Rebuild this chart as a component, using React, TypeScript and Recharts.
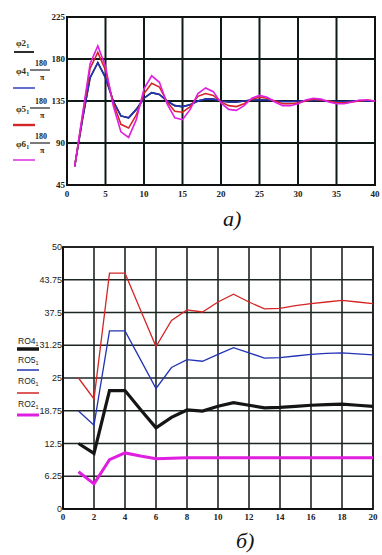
import React from 'react';
import { LineChart, Line, XAxis, YAxis, CartesianGrid, ReferenceArea } from 'recharts';

// ---- chart (а): angles vs time ----
const tA = [1,2,3,4,5,6,7,8,9,10,11,12,13,14,15,16,17,18,19,20,21,22,23,24,25,26,27,28,29,30,31,32,33,34,35,36,37,38,39,40];
const phi2 = [65,115,160,176,160,135,119,117,126,138,144,142,135,130,129,131,135,137,137,135,134,134,135,136,136,136,135,134.5,134.5,135,135,135.5,135.5,135,134.5,134.5,135,135,135,135];
const phi4 = [65,115,160,176,160,135,119,117,126,138,144,142,135,130,129,131,135,137,137,135,134,134,135,136,136,136,135,134.5,134.5,135,135,135.5,135.5,135,134.5,134.5,135,135,135,135];
const phi5 = [65,118,170,187,168,133,110,106,120,143,154,150,134,124,123,129,140,143,141,134,130,129,132,137,139,138,135,132,132,133,135,137,136,135,133,133,134,135,136,135];
const phi6 = [65,120,175,194,172,130,102,96,115,148,162,155,132,117,115,126,143,149,145,133,126,125,130,138,141,139,134,130,130,132,136,138,137,134,132,132,134,136,136,135];
const xTicksA = [0,5,10,15,20,25,30,35,40];
const yTicksA = [45,90,135,180,225];

// ---- chart (б) ----
const tB = [1,2,3,4,5,6,7,8,9,10,11,12,13,14,15,16,17,18,19,20];
const ro4 = [12.5,10.6,22.6,22.6,19,15.5,17.5,18.9,18.7,19.6,20.3,19.8,19.3,19.4,19.6,19.8,19.9,20,19.8,19.6];
const ro5 = [18.7,16,34,34,28.5,23,27,28.5,28.2,29.5,30.8,29.8,28.8,28.9,29.2,29.5,29.7,29.8,29.6,29.4];
const ro6 = [25,21,45,45,38,31,36,38,37.6,39.5,41,39.5,38.2,38.3,38.8,39.2,39.5,39.8,39.5,39.2];
const ro2 = [7.1,4.8,9.4,10.7,10.1,9.6,9.7,9.8,9.8,9.8,9.8,9.8,9.8,9.8,9.8,9.8,9.8,9.8,9.8,9.8];
const xTicksB = [0,2,4,6,8,10,12,14,16,18,20];
const yTicksB = [0,6.25,12.5,18.75,25,31.25,37.5,43.75,50];

const dataA = tA.map((t, i) => ({ t, phi2: phi2[i], phi4: phi4[i], phi5: phi5[i], phi6: phi6[i] }));
const dataB = tB.map((t, i) => ({ t, ro4: ro4[i], ro5: ro5[i], ro6: ro6[i], ro2: ro2[i] }));

const serifBold = { fontFamily: 'Liberation Serif', fontWeight: 700, fontSize: 9, fill: '#222' };
const sans = { fontFamily: 'Liberation Sans', fontSize: 9, fill: '#222' };

const C = { black: '#151515', blue: '#2233b5', red: '#d42626', mag: '#e01ee0' };

function Frac({ x, y, label }: { x: number; y: number; label: string }) {
  return (
    <g>
      <text x={x} y={y} fontFamily="Liberation Serif" fontWeight={700} fontSize={9} fill="#1d3a20">
        {label}
        <tspan fontSize={6} dy={2}>1</tspan>
      </text>
      <text x={35} y={y - 8} fontFamily="Liberation Serif" fontWeight={700} fontSize={8} fill="#222">180</text>
      <line x1={30} x2={50} y1={y - 4} y2={y - 4} stroke="#222" strokeWidth={1.2} />
      <text x={40} y={y + 6} fontFamily="Liberation Serif" fontWeight={700} fontSize={8} fill="#222">π</text>
    </g>
  );
}

export default function App() {
  return (
    <div style={{ position: 'absolute', left: 0, top: 0, width: 382, height: 555, background: '#fff' }}>
      <div style={{ position: 'absolute', left: 0, top: 0 }}>
        <LineChart width={382} height={200} data={dataA} margin={{ top: 17, right: 7, left: 0, bottom: 0 }}>
          <CartesianGrid stroke="#0f1a18" strokeWidth={2} horizontal vertical />
          <XAxis dataKey="t" type="number" domain={[0, 40]} ticks={xTicksA} height={15} tickSize={0} tickMargin={6}
            tick={serifBold} axisLine={{ stroke: '#111', strokeWidth: 2 }} interval={0} />
          <YAxis type="number" domain={[45, 225]} ticks={yTicksA} width={67} tickSize={0} tickMargin={2}
            tick={serifBold} axisLine={{ stroke: '#111', strokeWidth: 2 }} interval={0} />
          <ReferenceArea x1={0} x2={40} y1={45} y2={225} fill="none" stroke="#111" strokeWidth={2} ifOverflow="visible" />
          <Line dataKey="phi2" type="linear" stroke={C.black} strokeWidth={1.6} dot={false} isAnimationActive={false} />
          <Line dataKey="phi4" type="linear" stroke={C.blue} strokeWidth={1.6} dot={false} isAnimationActive={false} />
          <Line dataKey="phi5" type="linear" stroke={C.red} strokeWidth={1.6} dot={false} isAnimationActive={false} />
          <Line dataKey="phi6" type="linear" stroke={C.mag} strokeWidth={1.6} dot={false} isAnimationActive={false} />
        </LineChart>
      </div>
      <div style={{ position: 'absolute', left: 0, top: 230 }}>
        <LineChart width={382} height={295} data={dataB} margin={{ top: 17, right: 9, left: 0, bottom: 0 }}>
          <CartesianGrid stroke="#1e2624" strokeWidth={1.6} horizontal vertical />
          <XAxis dataKey="t" type="number" domain={[0, 20]} ticks={xTicksB} height={16} tickSize={0} tickMargin={5}
            tick={serifBold} axisLine={{ stroke: '#111', strokeWidth: 2 }} interval={0} />
          <YAxis type="number" domain={[0, 50]} ticks={yTicksB} width={63} tickSize={0} tickMargin={1}
            tick={sans} axisLine={{ stroke: '#111', strokeWidth: 2 }} interval={0} />
          <ReferenceArea x1={0} x2={20} y1={0} y2={50} fill="none" stroke="#222" strokeWidth={1.8} ifOverflow="visible" />
          <Line dataKey="ro6" type="linear" stroke={C.red} strokeWidth={1.3} dot={false} isAnimationActive={false} />
          <Line dataKey="ro5" type="linear" stroke={C.blue} strokeWidth={1.3} dot={false} isAnimationActive={false} />
          <Line dataKey="ro4" type="linear" stroke={C.black} strokeWidth={3.2} dot={false} isAnimationActive={false} />
          <Line dataKey="ro2" type="linear" stroke={C.mag} strokeWidth={3} dot={false} isAnimationActive={false} />
        </LineChart>
      </div>
      <svg width={382} height={555} style={{ position: 'absolute', left: 0, top: 0, pointerEvents: 'none' }}>
        {/* legend (а) */}
        <text x={16} y={46} fontFamily="Liberation Serif" fontWeight={700} fontSize={9} fill="#1d3a20">
          φ2<tspan fontSize={6} dy={2}>1</tspan>
        </text>
        <line x1={14} x2={34} y1={52} y2={52} stroke={C.black} strokeWidth={1.8} />
        <Frac x={16} y={74} label="φ4" />
        <line x1={13} x2={35} y1={88} y2={88} stroke={C.blue} strokeWidth={1.4} />
        <Frac x={16} y={112} label="φ5" />
        <line x1={13} x2={35} y1={125} y2={125} stroke={C.red} strokeWidth={2.4} />
        <Frac x={16} y={147} label="φ6" />
        <line x1={13} x2={35} y1={160} y2={160} stroke={C.mag} strokeWidth={1.4} />
        <text x={223} y={226} fontFamily="Liberation Serif" fontStyle="italic" fontSize={22} fill="#111">а)</text>

        {/* legend (б) */}
        <text x={18} y={344} fontFamily="Liberation Sans" fontSize={8.5} fill="#222">RO4<tspan fontSize={5.5} dy={2}>1</tspan></text>
        <line x1={17} x2={39} y1={349} y2={349} stroke={C.black} strokeWidth={3.5} />
        <text x={18} y={363} fontFamily="Liberation Sans" fontSize={8.5} fill="#222">RO5<tspan fontSize={5.5} dy={2}>1</tspan></text>
        <line x1={17} x2={39} y1={370} y2={370} stroke={C.blue} strokeWidth={1.5} />
        <text x={18} y={384} fontFamily="Liberation Sans" fontSize={8.5} fill="#222">RO6<tspan fontSize={5.5} dy={2}>1</tspan></text>
        <line x1={17} x2={39} y1={393} y2={393} stroke={C.red} strokeWidth={1.5} />
        <text x={18} y={407} fontFamily="Liberation Sans" fontSize={8.5} fill="#222">RO2<tspan fontSize={5.5} dy={2}>1</tspan></text>
        <line x1={17} x2={39} y1={415} y2={415} stroke={C.mag} strokeWidth={3} />
        <text x={236} y={548} fontFamily="Liberation Serif" fontStyle="italic" fontSize={22} fill="#111">б)</text>
      </svg>
    </div>
  );
}
